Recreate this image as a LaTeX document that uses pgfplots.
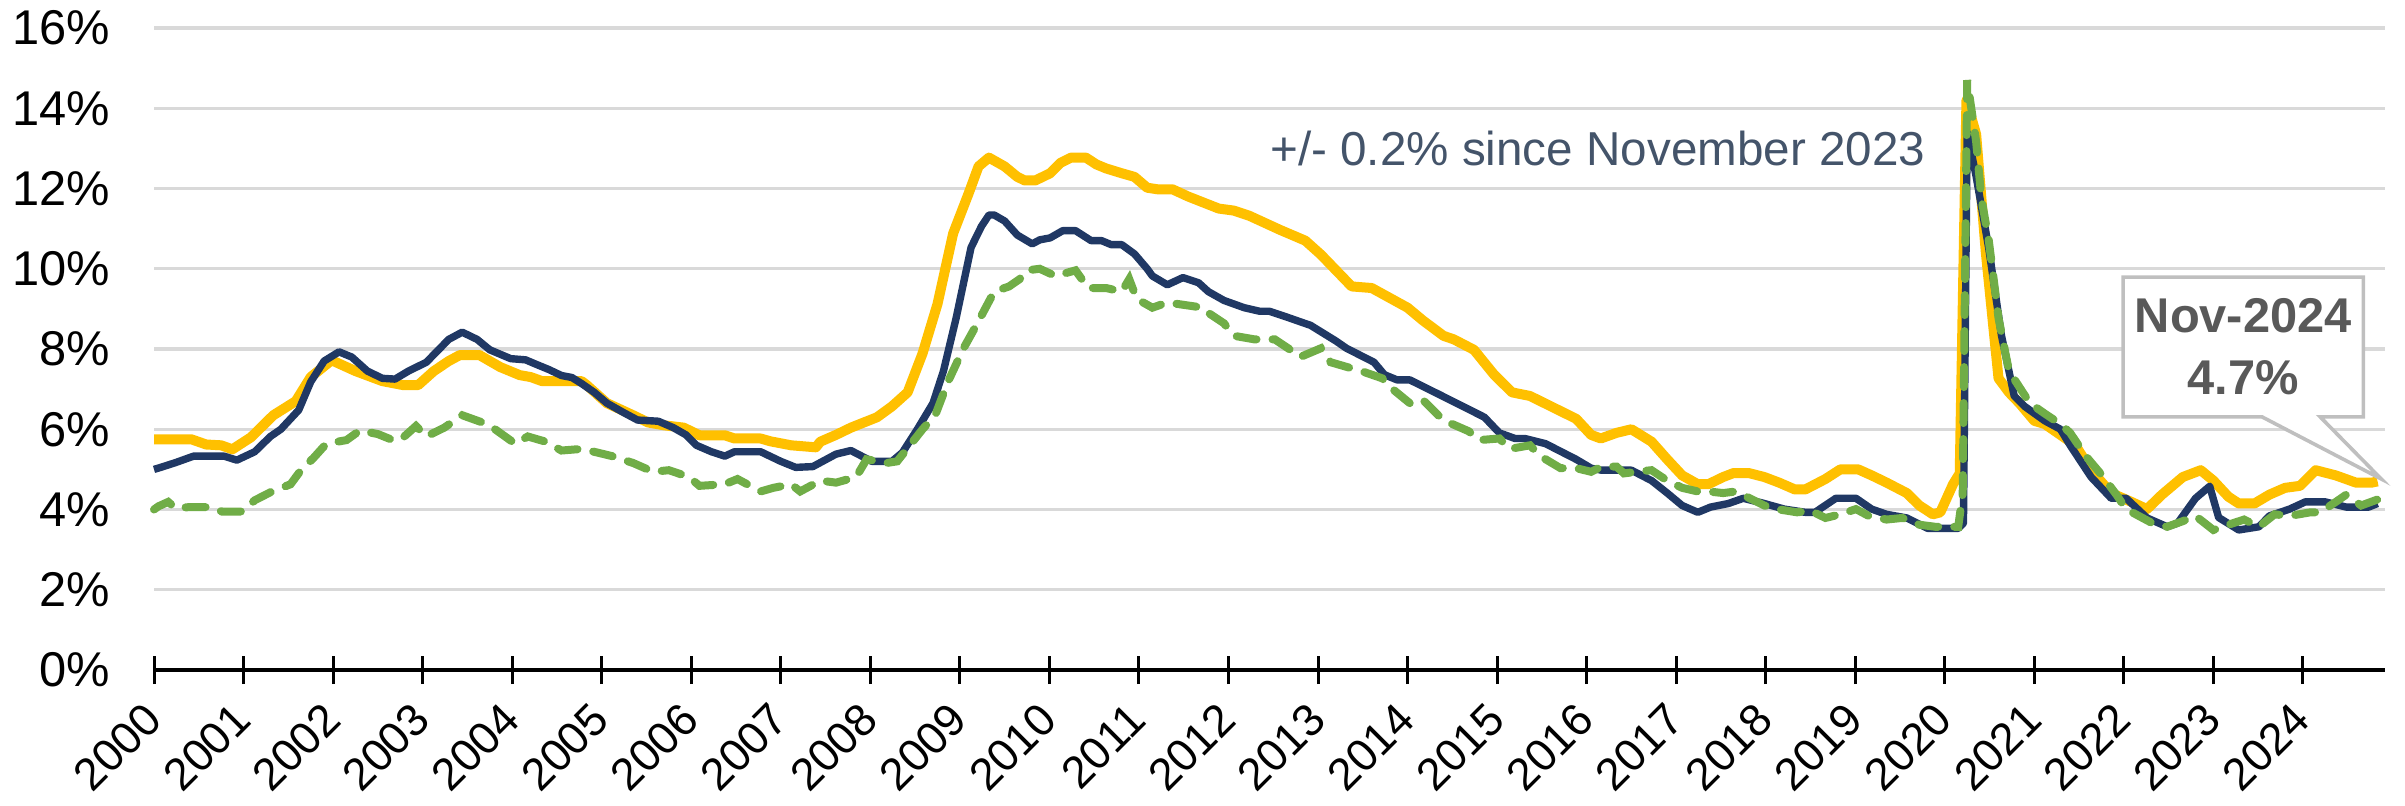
\documentclass[border=0pt]{standalone}
\usepackage{pgfplots}
\pgfplotsset{compat=1.18}
\usepackage{fontspec}
\setmainfont{Liberation Sans}
\definecolor{cyellow}{HTML}{FFC000}
\definecolor{cnavy}{HTML}{203864}
\definecolor{cgreen}{HTML}{70AD47}
\definecolor{cgrid}{HTML}{D9D9D9}
\definecolor{cnote}{HTML}{44546A}
\definecolor{cbox}{HTML}{BFBFBF}
\definecolor{cboxtext}{HTML}{595959}
\begin{document}
\begin{tikzpicture}
\begin{axis}[
  scale only axis, width=557.75pt, height=160.5pt,
  xmin=0, xmax=299, ymin=0, ymax=16,
  clip=false,
  axis lines*=left,
  axis line style={-},
  y axis line style={draw=none},
  x axis line style={black, line width=1pt},
  ytick={0,2,...,16},
  yticklabels={0\%,2\%,4\%,6\%,8\%,10\%,12\%,14\%,16\%},
  ytick style={draw=none},
  xtick={0,12,...,288},
  xticklabels={2000,2001,2002,2003,2004,2005,2006,2007,2008,2009,2010,2011,2012,2013,2014,2015,2016,2017,2018,2019,2020,2021,2022,2023,2024},
  xtick align=center,
  major tick length=7pt,
  xtick style={black, line width=0.75pt},
  ymajorgrids,
  major grid style={cgrid, line width=0.8pt},
  yticklabel style={font=\fontsize{12.2}{14}\selectfont, text=black, xshift=-7.5pt},
  xticklabel style={font=\fontsize{11.3}{13}\selectfont, text=black, xshift=2.2pt, yshift=-4.4pt, rotate=45, anchor=east},
]
% yellow series
\addplot[cyellow, line width=2.5pt, line join=round] coordinates {
(0,5.75)(5,5.75)(7,5.62)(9,5.6)(10.5,5.5)(13,5.8)(16,6.35)(19,6.7)(21,7.3)(23.8,7.72)(27,7.45)(30.6,7.2)(33.4,7.1)(35.4,7.1)(37.5,7.45)(39.5,7.7)(41,7.85)(43.6,7.85)(46.4,7.55)(49,7.35)(50.5,7.3)(52,7.2)(57.3,7.2)(58,7.1)(60.7,6.65)(64.2,6.35)(66.2,6.17)(68.3,6.1)(71,6.04)(73.1,5.85)(76.5,5.85)(77.8,5.77)(81.3,5.77)(82.6,5.7)(85.4,5.6)(88.7,5.55)(89.3,5.69)(91.4,5.86)(93.4,6.04)(96.9,6.3)(98.9,6.57)(101,6.92)(103,7.89)(105,9.12)(107.1,10.88)(109.2,11.89)(110.5,12.55)(111.9,12.77)(114,12.55)(115.7,12.29)(116.7,12.2)(118.1,12.2)(120.1,12.38)(121.5,12.64)(122.9,12.77)(124.9,12.77)(126.3,12.6)(127.6,12.5)(129.7,12.38)(131.4,12.29)(133.1,12.02)(134.5,11.98)(136.5,11.98)(138.6,11.8)(142.7,11.5)(144.7,11.45)(146.8,11.32)(150.9,10.97)(154.3,10.7)(156.4,10.35)(160.5,9.56)(163.2,9.52)(168,9.03)(170,8.72)(172.8,8.33)(174.2,8.24)(176.9,7.98)(179.6,7.36)(182,6.92)(184.4,6.83)(190.6,6.26)(192.6,5.86)(193.9,5.77)(196,5.91)(198,6.0)(200.7,5.69)(202.8,5.25)(204.8,4.85)(206.9,4.63)(208.3,4.63)(210.3,4.81)(211.7,4.91)(213.7,4.91)(215.8,4.81)(217.8,4.67)(219.9,4.5)(221.3,4.5)(224,4.76)(226,5.0)(228.4,5.0)(230.2,4.85)(232.2,4.67)(234.9,4.41)(236.6,4.1)(238.4,3.88)(239.4,3.93)(241.1,4.63)(242,4.9)(242.9,14.2)(244.2,13.35)(245.5,10.4)(247.2,7.27)(248.6,6.92)(250,6.65)(252,6.21)(253.4,6.13)(255.5,5.86)(257.5,5.6)(259.6,4.98)(262.3,4.41)(265,4.19)(267.1,4.01)(269.1,4.37)(271.9,4.81)(274.3,4.98)(276,4.72)(278,4.32)(279.4,4.15)(281.5,4.15)(283.5,4.37)(285.6,4.54)(287.6,4.59)(289.7,4.98)(292.4,4.85)(295.1,4.67)(297.2,4.67)(298,4.7)
};
% navy series
\addplot[cnavy, line width=1.85pt, line join=round] coordinates {
(0,5.0)(0.9,5.05)(2.9,5.17)(5.3,5.33)(9.4,5.33)(11.1,5.23)(13.5,5.44)(15.6,5.82)(17,6.0)(19.4,6.48)(21,7.18)(22.8,7.7)(24.8,7.93)(26.5,7.8)(28.6,7.45)(30.6,7.27)(32.3,7.25)(34.1,7.45)(36.5,7.67)(39.5,8.24)(41.3,8.42)(43.3,8.24)(45,7.98)(47.8,7.76)(49.8,7.73)(51.2,7.62)(52.9,7.49)(54.6,7.34)(56,7.29)(57.3,7.14)(59,6.92)(60.7,6.65)(62.8,6.43)(64.8,6.23)(67.6,6.2)(69.6,6.04)(71.3,5.86)(72.7,5.6)(74.7,5.44)(76.5,5.33)(77.8,5.44)(81.3,5.44)(84,5.2)(86,5.05)(88.3,5.07)(91.4,5.38)(93.4,5.47)(96.2,5.2)(98.9,5.2)(100.3,5.42)(102.3,6.0)(104.4,6.65)(105.8,7.45)(107.5,8.77)(109.5,10.53)(110.9,11.06)(111.9,11.34)(112.6,11.34)(114,11.19)(115.7,10.84)(117.7,10.62)(118.7,10.72)(120.1,10.77)(121.8,10.95)(123.5,10.95)(125.6,10.7)(127,10.7)(128.3,10.6)(129.7,10.6)(131.4,10.37)(133.1,10.0)(133.8,9.82)(135.8,9.6)(137.9,9.78)(140,9.65)(141.3,9.43)(143.4,9.21)(146.1,9.03)(148.2,8.94)(149.5,8.94)(151.6,8.81)(153.6,8.68)(155,8.59)(158.4,8.2)(159.8,8.02)(163.5,7.67)(164.9,7.36)(166.6,7.23)(168.3,7.23)(172.1,6.88)(178.3,6.3)(180.3,5.91)(182.4,5.77)(183.7,5.77)(186.5,5.64)(190.6,5.25)(192.6,5.03)(194,4.98)(198,4.98)(200.7,4.72)(202.8,4.41)(204.8,4.1)(206.9,3.93)(208.6,4.06)(211,4.15)(213,4.28)(215.8,4.15)(218.5,4.01)(221.3,3.93)(222.6,3.93)(225.4,4.28)(228.1,4.28)(230.2,4.01)(232.2,3.88)(234.9,3.79)(237.7,3.53)(241.8,3.53)(242.5,3.66)(243,13.4)(244.2,12.3)(245.9,10.5)(247.6,8.33)(249.3,6.83)(250.7,6.57)(253.4,6.21)(255.5,6.0)(256.8,5.6)(259.6,4.81)(262.3,4.28)(264.3,4.28)(267.1,3.79)(269.8,3.57)(271.2,3.66)(273.6,4.28)(275.5,4.58)(276.7,3.8)(279.4,3.49)(282.1,3.57)(283.5,3.84)(286.2,4.01)(288.3,4.19)(291,4.19)(293.8,4.06)(296.8,4.06)(298,4.15)
};
% green dashed series
\addplot[cgreen, line width=2.0pt, line cap=round, dash pattern=on 5pt off 4pt] coordinates {
(0,4.0)(0.6,4.08)(1.9,4.19)(2.9,4.03)(4.7,4.06)(7.4,4.06)(9.1,3.95)(11.8,3.95)(13.5,4.23)(15.6,4.43)(18.3,4.63)(19.7,4.98)(21.4,5.29)(23.1,5.64)(25.8,5.73)(27.6,5.97)(30,5.88)(32,5.73)(33,5.73)(35.1,6.08)(36.5,5.82)(38.9,6.04)(41.3,6.35)(44,6.17)(45.7,6.0)(48.4,5.64)(50.1,5.82)(52.5,5.69)(54.6,5.47)(57.3,5.51)(59.4,5.42)(61.4,5.33)(64.2,5.16)(66.9,4.94)(69,4.98)(71.7,4.81)(73.1,4.59)(76.5,4.63)(78.2,4.76)(81.3,4.45)(83,4.54)(85.4,4.63)(86.6,4.45)(89.3,4.72)(91.4,4.67)(94.1,4.81)(95.5,5.25)(98.2,5.16)(99.6,5.2)(101.3,5.6)(103,6.0)(104.7,6.35)(106.4,7.18)(108.5,8.02)(110.2,8.59)(111.2,8.94)(112.6,9.43)(114.6,9.56)(116,9.74)(117,9.96)(118.7,10.0)(120.8,9.82)(123.5,9.96)(125.2,9.52)(127.6,9.52)(129.7,9.43)(130.7,9.74)(131.7,9.25)(133.8,9.03)(135.8,9.16)(140.6,9.03)(141.3,8.9)(143.4,8.64)(144.7,8.33)(147.5,8.24)(150.2,8.24)(152.3,7.98)(153.6,7.8)(156.4,8.02)(157.7,7.67)(160.1,7.54)(161.8,7.45)(164.6,7.27)(166,7.0)(168.3,6.65)(170,6.74)(172.1,6.35)(173.5,6.17)(176.2,5.95)(177.6,5.73)(180.3,5.77)(181.7,5.51)(184.4,5.6)(185.8,5.33)(188.5,5.03)(190.6,5.03)(192.6,4.94)(194,5.07)(196,5.07)(197,4.9)(198.7,4.94)(200.7,4.98)(202.8,4.72)(204.8,4.54)(206.9,4.45)(208.3,4.45)(210.3,4.41)(212,4.45)(214.4,4.23)(215.8,4.1)(217.5,4.01)(220.2,3.93)(222,3.97)(224,3.79)(226,3.88)(228.1,4.01)(229.8,3.84)(232.2,3.75)(234.3,3.79)(236.6,3.62)(238.7,3.57)(241.8,3.57)(242.4,4.4)(243,14.7)(244.2,13.17)(244.9,11.76)(245.9,10.7)(247.2,8.77)(248.6,7.45)(251.4,6.65)(253.4,6.39)(255.5,6.13)(256.8,5.91)(258.9,5.33)(260.9,4.89)(263,4.37)(264.3,4.01)(267.8,3.66)(269.8,3.57)(271.9,3.71)(273.6,3.84)(276,3.49)(278,3.62)(280.1,3.75)(282.1,3.57)(284.2,3.88)(286.2,3.84)(289,3.93)(290.3,3.93)(292.4,4.19)(293.8,4.37)(295.8,4.1)(298,4.25)
};
% annotations
\node[anchor=base west, text=cnote, font=\fontsize{11.9}{14}\selectfont, inner sep=0pt] at (axis cs:149.5,12.58) {+/- 0.2\% since November 2023};
\draw[cbox, line width=0.9pt, fill=white, line join=miter] (axis cs:263.9,9.79) -- (axis cs:296.1,9.79) -- (axis cs:296.1,6.31) -- (axis cs:290.3,6.31) -- (axis cs:298.5,4.76) -- (axis cs:282.5,6.31) -- (axis cs:263.9,6.31) -- cycle;
\node[text=cboxtext, font=\bfseries\fontsize{12.2}{14}\selectfont] at (axis cs:280,8.83) {Nov-2024};
\node[text=cboxtext, font=\bfseries\fontsize{12.2}{14}\selectfont] at (axis cs:280,7.28) {4.7\%};
\end{axis}
\pgfresetboundingbox
\path[use as bounding box] (-38.5pt,-33.75pt) rectangle (562.75pt,167.5pt);
\end{tikzpicture}
\end{document}
